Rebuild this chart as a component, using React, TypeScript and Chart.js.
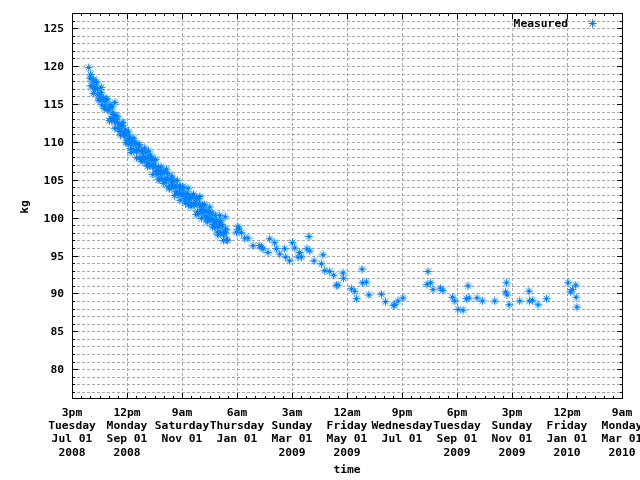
import React, { useEffect, useRef } from 'react';
import { Chart, registerables } from 'chart.js';

Chart.register(...registerables);

// x values: days since Tue Jul 01 2008 15:00 ; y values: kg
const measured: [number, number][] = [
  [18.5, 119.8], [20, 118.4], [20.5, 118.9], [21, 117.4], [22, 117.4], [23, 118.2], [23.5, 116.4], [24, 118.2], [25, 117.1], [26, 117.0],
  [26.5, 117.9], [27, 117.8], [28, 117.0], [29, 116.2], [29.5, 115.5], [30, 115.7], [31, 116.3], [32, 116.5], [32.5, 117.2], [33, 114.9], [34, 115.6],
  [35, 115.7], [35.5, 114.4], [36, 114.7], [37, 115.6], [38, 115.4], [38.5, 115.7], [39, 114.3], [40, 114.2], [41, 114.4], [41.5, 112.8], [42, 114.9],
  [43, 113.1], [44, 112.8], [44.5, 114.6], [45, 113.8], [46, 113.6], [47, 113.0], [47.4, 115.2], [47.5, 111.8], [48, 112.6], [49, 113.4],
  [50, 112.6], [50.5, 113.3], [51, 111.8], [52, 112.4], [53, 111.4], [53.5, 110.9], [54, 111.4], [55, 112.1], [56, 112.1], [56.5, 112.6], [57, 111.0],
  [58, 110.9], [59, 111.6], [59.5, 109.9], [60, 110.9], [61, 110.2], [62, 109.7], [62.5, 111.3], [63, 110.4], [64, 110.6], [65, 109.1], [65.5, 108.6],
  [66, 109.8], [67, 110.0], [68, 109.0], [68.5, 110.5], [69, 109.9], [70, 109.8], [71, 108.8], [71.5, 107.9], [72, 108.8], [73, 109.0],
  [74, 109.6], [74.5, 109.6], [75, 107.9], [76, 107.7], [77, 108.8], [77.5, 107.4], [78, 108.7], [79, 108.0], [80, 107.7], [80.5, 109.2], [81, 108.6],
  [82, 107.9], [83, 107.2], [83.5, 106.8], [84, 107.9], [84.5, 108.8], [85, 106.9], [86, 107.0], [86.5, 108.3], [87, 107.8], [88, 107.8],
  [89, 106.8], [89.5, 105.7], [90, 106.8], [91, 107.5], [92, 106.8], [92.5, 107.7], [93, 106.1], [94, 105.7], [95, 106.3], [95.5, 105.0], [96, 106.6],
  [97, 105.1], [98, 105.9], [98.5, 106.7], [99, 106.0], [100, 105.1], [101, 106.1], [101.5, 104.5], [102, 106.0], [103, 104.9], [104, 104.9],
  [104.5, 106.4], [105, 105.2], [106, 105.8], [107, 104.1], [107.5, 103.9], [108, 103.9], [109, 105.0], [110, 104.9], [110.5, 105.5], [111, 104.3], [112, 104.0],
  [113, 104.9], [113.5, 102.9], [114, 104.2], [115, 103.4], [116, 104.1], [116.5, 104.9], [117, 103.1], [118, 103.2], [119, 104.0], [119.5, 102.3], [120, 104.1],
  [121, 103.1], [122, 103.1], [122.5, 104.1], [123, 103.9], [124, 103.2], [125, 102.5], [125.5, 101.9], [126, 102.2], [127, 102.9], [128, 103.2],
  [128.5, 103.9], [129, 101.7], [130, 102.5], [131, 102.7], [131.5, 101.5], [132, 101.8], [133, 102.8], [134, 102.7], [134.5, 103.1], [135, 101.7], [136, 101.7],
  [137, 102.0], [137.5, 100.4], [138, 102.5], [139, 100.8], [140, 100.6], [140.5, 102.5], [141, 101.7], [141.5, 102.8], [142, 101.6], [143, 101.0],
  [143.5, 99.9], [144, 100.7], [145, 101.6], [146, 100.9], [146.5, 101.7], [147, 100.2], [148, 100.9], [149, 99.9], [149.5, 99.4], [150, 99.9], [151, 100.7],
  [152, 100.8], [152.5, 101.4], [153, 99.8], [154, 99.8], [155, 100.6], [155.5, 98.8], [156, 99.8], [157, 99.1], [158, 98.7], [158.5, 100.3], [159, 99.4],
  [160, 99.6], [161, 98.1], [161.5, 97.7], [162, 98.9], [163, 99.1], [163.4, 100.3], [164, 98.1], [164.5, 99.6], [165, 99.1], [166, 98.9],
  [167, 97.9], [167.5, 97.0], [168, 97.8], [169, 98.0], [169.5, 100.1], [170, 98.5], [170.5, 98.4], [171, 97.1], [172, 97.0],
  [182.0, 98.1], [183.7, 98.8], [184.8, 98.5], [187.5, 98.0], [191.2, 97.3], [194.8, 97.3], [200.3, 96.3],
  [207.7, 96.3], [209.6, 96.1], [211.4, 95.9], [216.9, 95.4], [218.8, 97.2], [224.4, 96.7], [226.2, 95.9],
  [229.9, 95.2], [235.4, 95.9], [236.5, 94.8], [240.9, 94.3], [243.9, 96.7], [246.5, 96.0], [250.1, 94.8],
  [252.0, 95.4], [253.9, 94.8], [260.1, 95.9], [262.3, 97.5], [263.1, 95.6], [267.8, 94.3], [276.0, 93.9],
  [277.8, 95.1], [279.7, 93.0], [285.2, 92.9], [289.6, 92.4], [292.6, 91.1], [294.4, 91.1], [299.9, 92.7],
  [300.5, 92.0], [309.2, 90.6], [312.9, 90.3], [314.8, 89.3], [321.0, 93.2], [321.4, 91.4], [325.8, 91.5],
  [328.7, 89.8], [342.4, 89.9], [346.9, 88.9], [356.1, 88.4], [357.2, 88.5], [360.8, 89.0], [366.3, 89.4],
  [392.9, 91.2], [394.0, 92.9], [397.0, 91.4], [399.6, 90.5], [407.7, 90.7], [410.6, 90.4], [421.0, 89.5],
  [423.6, 89.0], [427.2, 87.9], [432.8, 87.8], [436.5, 89.3], [438.3, 91.0], [439.4, 89.4], [448.3, 89.4],
  [454.2, 89.0], [467.8, 89.0], [480.0, 90.2], [480.8, 91.4], [481.5, 89.8], [483.7, 88.5], [495.5, 89.0],
  [505.8, 90.3], [506.2, 89.0], [509.6, 89.1], [515.8, 88.5], [525.1, 89.3], [549.0, 91.4], [551.6, 90.2],
  [553.8, 90.5], [557.5, 91.1], [558.0, 89.5], [558.9, 88.2],
];

const seriesLabel = 'Measured';
const xTitle = 'time';
const yTitle = 'kg';

// x tick labels (one tick every 60.875 days)
const xTickTimes = ['3pm', '12pm', '9am', '6am', '3am', '12am', '9pm', '6pm', '3pm', '12pm', '9am'];
const xTickWeekdays = ['Tuesday', 'Monday', 'Saturday', 'Thursday', 'Sunday', 'Friday', 'Wednesday', 'Tuesday', 'Sunday', 'Friday', 'Monday'];
const xTickDates = ['Jul 01', 'Sep 01', 'Nov 01', 'Jan 01', 'Mar 01', 'May 01', 'Jul 01', 'Sep 01', 'Nov 01', 'Jan 01', 'Mar 01'];
const xTickYears = ['2008', '2008', '', '', '2009', '2009', '', '2009', '2009', '2010', '2010'];
const yTickValues = [80, 85, 90, 95, 100, 105, 110, 115, 120, 125];

const X_STEP = 60.875;
const X_MIN = 0;
const X_MAX = 608.75;
const Y_MIN = 76.2;
const Y_MAX = 127;

const POINT_COLOR = '#0080ff';
const GRID_COLOR = '#a8a8a8';
const FONT = 'bold 11.3px "DejaVu Sans Mono", monospace';

function makeStar(color: string): HTMLCanvasElement {
  const c = document.createElement('canvas');
  c.width = 9;
  c.height = 9;
  const g = c.getContext('2d')!;
  g.strokeStyle = color;
  g.lineWidth = 1;
  g.beginPath();
  g.moveTo(0.5, 4.5); g.lineTo(8.5, 4.5);
  g.moveTo(4.5, 0.5); g.lineTo(4.5, 8.5);
  g.moveTo(1.5, 1.5); g.lineTo(7.5, 7.5);
  g.moveTo(7.5, 1.5); g.lineTo(1.5, 7.5);
  g.stroke();
  return c;
}

const gnuplotPlugin = {
  id: 'gnuplotLook',
  beforeDatasetsDraw(chart: any) {
    const { ctx, chartArea, scales } = chart;
    const { left, right, top, bottom } = chartArea;
    const xs = scales.x;
    const ys = scales.y;
    ctx.save();
    ctx.strokeStyle = GRID_COLOR;
    ctx.lineWidth = 1;
    ctx.setLineDash([3, 2]);
    ctx.beginPath();
    for (let v = Math.ceil(Y_MIN); v < Y_MAX; v++) {
      const py = Math.round(ys.getPixelForValue(v)) + 0.5;
      ctx.moveTo(left, py);
      ctx.lineTo(right, py);
    }
    for (let k = 1; k < xTickTimes.length - 1; k++) {
      const px = Math.round(xs.getPixelForValue(k * X_STEP)) + 0.5;
      ctx.moveTo(px, top);
      ctx.lineTo(px, bottom);
    }
    ctx.stroke();
    ctx.restore();
  },
  afterDraw(chart: any) {
    const { ctx, chartArea, scales } = chart;
    const { left, right, top, bottom } = chartArea;
    const xs = scales.x;
    const ys = scales.y;
    ctx.save();
    ctx.setLineDash([]);
    ctx.strokeStyle = '#000';
    ctx.lineWidth = 1;
    // frame
    ctx.strokeRect(left + 0.5, top + 0.5, right - left, bottom - top);
    // y ticks
    ctx.beginPath();
    for (let v = Math.ceil(Y_MIN); v < Y_MAX; v++) {
      const py = Math.round(ys.getPixelForValue(v)) + 0.5;
      const len = v % 5 === 0 ? 6 : 3;
      ctx.moveTo(left, py); ctx.lineTo(left + len, py);
      ctx.moveTo(right + 1, py); ctx.lineTo(right + 1 - len, py);
    }
    // x ticks
    for (let k = 0; k < (xTickTimes.length - 1) * 6; k++) {
      const px = Math.round(xs.getPixelForValue((k * X_STEP) / 6)) + 0.5;
      const len = k % 6 === 0 ? 6 : 3;
      ctx.moveTo(px, bottom + 1); ctx.lineTo(px, bottom + 1 - len);
      ctx.moveTo(px, top); ctx.lineTo(px, top + len);
    }
    ctx.stroke();

    // labels
    ctx.fillStyle = '#000';
    ctx.font = FONT;
    ctx.textBaseline = 'middle';
    ctx.textAlign = 'right';
    yTickValues.forEach((v) => {
      ctx.fillText(String(v), 64, Math.round(ys.getPixelForValue(v)) + 1);
    });
    ctx.textAlign = 'center';
    const lineYs = [413, 426.3, 439.5, 452.7];
    xTickTimes.forEach((t, k) => {
      const px = xs.getPixelForValue(k * X_STEP);
      const lines = [t, xTickWeekdays[k], xTickDates[k], xTickYears[k]];
      lines.forEach((s, i) => {
        if (s) ctx.fillText(s, px, lineYs[i]);
      });
    });
    ctx.fillText(xTitle, 347, 470);
    ctx.save();
    ctx.translate(25, 207);
    ctx.rotate(-Math.PI / 2);
    ctx.fillText(yTitle, 0, 0);
    ctx.restore();

    // legend
    ctx.textAlign = 'right';
    ctx.fillText(seriesLabel, 568, 24);
    ctx.drawImage(starImg, 588, 19);
    ctx.restore();
  },
};

let starImg: HTMLCanvasElement;

export default function App() {
  const ref = useRef<HTMLCanvasElement | null>(null);
  useEffect(() => {
    if (!ref.current) return;
    starImg = makeStar(POINT_COLOR);
    const chart = new Chart(ref.current, {
      type: 'scatter',
      data: {
        datasets: [
          {
            label: seriesLabel,
            data: measured.map(([d, kg]) => ({ x: d, y: kg })),
            pointStyle: starImg as any,
            pointRadius: 4.5,
            borderColor: POINT_COLOR,
            backgroundColor: POINT_COLOR,
          },
        ],
      },
      options: {
        animation: false,
        responsive: false,
        events: [],
        layout: { padding: { left: 72, right: 18, top: 13, bottom: 82 } },
        plugins: { legend: { display: false }, tooltip: { enabled: false } },
        scales: {
          x: { type: 'linear', min: X_MIN, max: X_MAX, display: false },
          y: { type: 'linear', min: Y_MIN, max: Y_MAX, display: false },
        },
      },
      plugins: [gnuplotPlugin],
    });
    return () => chart.destroy();
  }, []);
  return (
    <div style={{ position: 'fixed', left: 0, top: 0, width: 640, height: 480, background: '#fff' }}>
      <canvas ref={ref} width={640} height={480} />
    </div>
  );
}
